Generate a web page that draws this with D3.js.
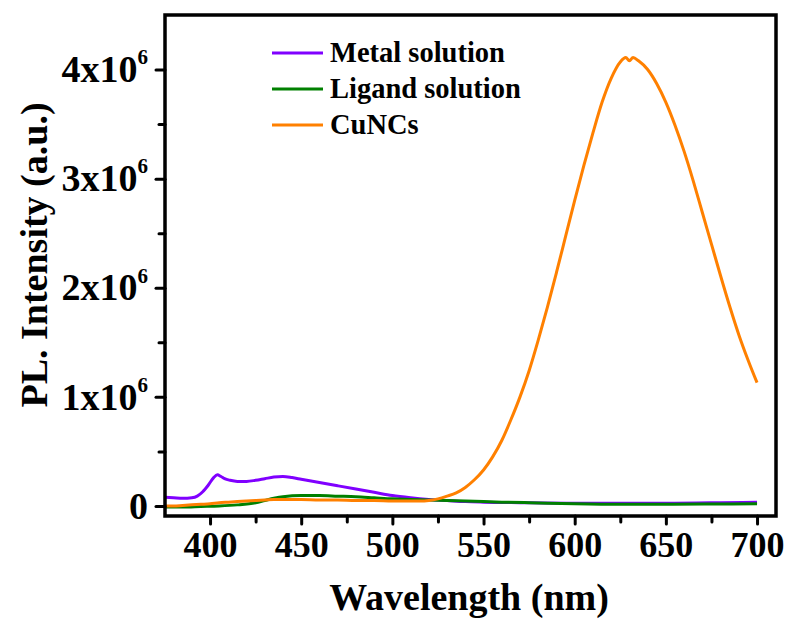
<!DOCTYPE html>
<html>
<head>
<meta charset="utf-8">
<script src="https://cdn.jsdelivr.net/npm/d3@7"></script>
<style>
  html, body { margin: 0; padding: 0; background: #fff; }
  svg text { font-family: "Liberation Serif", "Times New Roman", serif; font-weight: bold; fill: #000; }
</style>
</head>
<body>
<svg id="chart" width="787" height="619"></svg>
<script>
// ---- data (intensity in units of 1e6) ----
const seriesNames = ["Metal solution", "Ligand solution", "CuNCs"];
const seriesColors = ["#8000ff", "#008000", "#ff8000"];

const metalWl = [375,380,385,390,393,396,399,402,404,406,408,411,415,420,425,430,435,440,445,450,460,470,480,490,500,510,520,530,540,550,570,600,650,680,700];
const metalVal = [0.08,0.075,0.07,0.075,0.09,0.13,0.19,0.26,0.285,0.27,0.25,0.235,0.225,0.225,0.235,0.25,0.265,0.27,0.26,0.245,0.215,0.185,0.155,0.125,0.095,0.075,0.06,0.05,0.04,0.035,0.03,0.025,0.025,0.03,0.035];

const ligandWl = [375,385,395,405,415,425,430,435,440,450,460,470,480,490,500,510,520,530,540,550,560,575,600,625,650,675,700];
const ligandVal = [-0.01,-0.01,-0.005,0.0,0.01,0.03,0.05,0.07,0.085,0.095,0.095,0.09,0.085,0.075,0.065,0.06,0.055,0.05,0.045,0.04,0.035,0.03,0.02,0.015,0.015,0.018,0.02];

const cuWl = [375,380,385,390,395,400,405,410,415,420,425,430,435,440,445,450,460,470,480,490,500,510,515,520,525,530,535,540,545,550,555,560,565,570,575,580,585,590,595,600,605,610,615,620,625,628,630,632,635,640,645,650,655,660,665,670,675,680,685,690,695,700];
const cuVal = [0.0,0.0,0.005,0.01,0.015,0.02,0.03,0.035,0.04,0.045,0.05,0.055,0.06,0.06,0.06,0.06,0.055,0.055,0.05,0.05,0.045,0.045,0.045,0.05,0.065,0.09,0.12,0.17,0.24,0.33,0.45,0.60,0.79,1.00,1.24,1.52,1.82,2.14,2.47,2.80,3.12,3.42,3.70,3.92,4.07,4.11,4.08,4.11,4.08,4.00,3.87,3.70,3.49,3.25,2.98,2.69,2.40,2.11,1.83,1.57,1.34,1.13];

const xTicks = [400,450,500,550,600,650,700];
const xMinorTicks = [425,475,525,575,625,675];
const yTicks = [0,1,2,3,4];
const yMinorTicks = [0.5,1.5,2.5,3.5];
const yTickLabels = ["0","1x10","2x10","3x10","4x10"];
const yTickExp = ["","6","6","6","6"];

// ---- layout ----
const L = 165, R = 776, T = 15, B = 516;
const svg = d3.select("#chart");

const x = d3.scaleLinear().domain([375.3, 710.4]).range([L, R]);
const y = d3.scaleLinear().domain([-0.092, 4.5]).range([B, T]);

const series = [
  {wl: metalWl, val: metalVal},
  {wl: ligandWl, val: ligandVal},
  {wl: cuWl, val: cuVal}
];

svg.append("defs").append("clipPath").attr("id", "clip")
  .append("rect").attr("x", L).attr("y", T).attr("width", R - L).attr("height", B - T);

const line = d3.line().x(d => x(d[0])).y(d => y(d[1])).curve(d3.curveMonotoneX);

const g = svg.append("g").attr("clip-path", "url(#clip)");
series.forEach((s, i) => {
  const pts = s.wl.map((w, k) => [w, s.val[k]]);
  g.append("path").datum(pts)
    .attr("d", line)
    .attr("fill", "none")
    .attr("stroke", seriesColors[i])
    .attr("stroke-width", 3)
    .attr("stroke-linejoin", "round");
});

// ---- axes ----
const xAxis = d3.axisBottom(x).tickValues(xTicks).tickSize(8).tickPadding(7.5).tickFormat(d3.format("d"));
const gx = svg.append("g").attr("transform", `translate(0,${B})`).call(xAxis);
gx.select(".domain").remove();
gx.selectAll(".tick line").attr("stroke", "#000").attr("stroke-width", 3).attr("stroke-linecap", "round");
gx.selectAll(".tick text").style("font-size", "36px");

const gxm = svg.append("g").attr("transform", `translate(0,${B})`)
  .call(d3.axisBottom(x).tickValues(xMinorTicks).tickSize(6).tickFormat(""));
gxm.select(".domain").remove();
gxm.selectAll(".tick line").attr("stroke", "#000").attr("stroke-width", 3).attr("stroke-linecap", "round");

const yAxis = d3.axisLeft(y).tickValues(yTicks).tickSize(9).tickPadding(8).tickFormat("");
const gy = svg.append("g").attr("transform", `translate(${L},0)`).call(yAxis);
gy.select(".domain").remove();
gy.selectAll(".tick line").attr("stroke", "#000").attr("stroke-width", 3).attr("stroke-linecap", "round");
gy.selectAll(".tick text").each(function(d, i) {
  const t = d3.select(this).style("font-size", "38px");
  t.append("tspan").text(yTickLabels[i]);
  if (yTickExp[i]) {
    t.append("tspan").text(yTickExp[i]).style("font-size", "21px").attr("dy", "-0.85em");
  }
});

const gym = svg.append("g").attr("transform", `translate(${L},0)`)
  .call(d3.axisLeft(y).tickValues(yMinorTicks).tickSize(6).tickFormat(""));
gym.select(".domain").remove();
gym.selectAll(".tick line").attr("stroke", "#000").attr("stroke-width", 3).attr("stroke-linecap", "round");

// frame
svg.append("rect").attr("x", L).attr("y", T).attr("width", R - L).attr("height", B - T)
  .attr("fill", "none").attr("stroke", "#000").attr("stroke-width", 3.5);

// axis titles
svg.append("text").attr("x", 469).attr("y", 610).attr("text-anchor", "middle")
  .style("font-size", "38px").text("Wavelength (nm)");
svg.append("text").attr("transform", "translate(47,255) rotate(-90)").attr("text-anchor", "middle")
  .style("font-size", "38px").text("PL. Intensity (a.u.)");

// legend
const leg = svg.append("g");
const legY = [53, 89, 125];
seriesNames.forEach((n, i) => {
  leg.append("line").attr("x1", 272).attr("x2", 323).attr("y1", legY[i]).attr("y2", legY[i])
    .attr("stroke", seriesColors[i]).attr("stroke-width", 3);
  leg.append("text").attr("x", 330).attr("y", legY[i]).attr("dy", "0.33em")
    .style("font-size", "28.5px").text(n);
});
</script>
</body>
</html>
